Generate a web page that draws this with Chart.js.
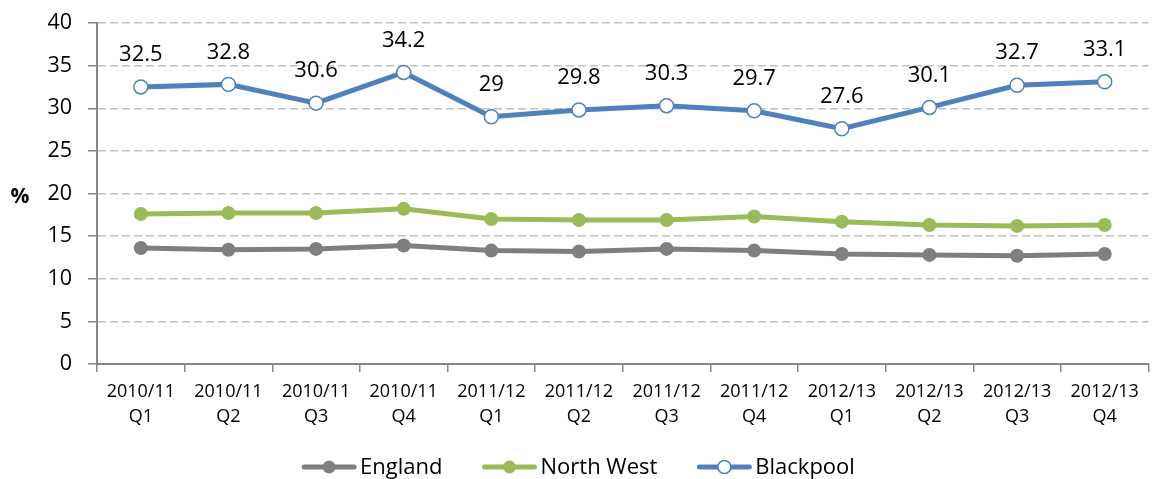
<!DOCTYPE html>
<html>
<head>
<meta charset="utf-8">
<script src="https://cdn.jsdelivr.net/npm/chart.js@4"></script>
<style>
  html, body { margin: 0; padding: 0; background: #fff; }
  #wrap { width: 1157px; height: 479px; }
</style>
</head>
<body>
<div id="wrap"><canvas id="chart"></canvas></div>
<script>
// Chart data
const quarters = [
    ['2010/11', 'Q1'], ['2010/11', 'Q2'], ['2010/11', 'Q3'], ['2010/11', 'Q4'],
    ['2011/12', 'Q1'], ['2011/12', 'Q2'], ['2011/12', 'Q3'], ['2011/12', 'Q4'],
    ['2012/13', 'Q1'], ['2012/13', 'Q2'], ['2012/13', 'Q3'], ['2012/13', 'Q4']
];
const england = [13.6, 13.4, 13.5, 13.9, 13.3, 13.2, 13.5, 13.3, 12.9, 12.8, 12.7, 12.9];
const northWest = [17.6, 17.7, 17.7, 18.2, 17.0, 16.9, 16.9, 17.3, 16.7, 16.3, 16.2, 16.3];
const blackpool = [32.5, 32.8, 30.6, 34.2, 29, 29.8, 30.3, 29.7, 27.6, 30.1, 32.7, 33.1];

const FONT = "'Open Sans', 'Liberation Sans', sans-serif";
const GREY = '#7f7f7f';
const GREEN = '#9bbb59';
const BLUE = '#4f81bd';

// Value labels above Blackpool points, the horizontal "%" title
const valueLabels = {
    id: 'valueLabels',
    afterDatasetsDraw(chart) {
        const meta = chart.getDatasetMeta(2);
        const ctx = chart.ctx;
        ctx.save();
        ctx.font = '22px ' + FONT;
        ctx.fillStyle = '#000';
        ctx.textAlign = 'center';
        ctx.textBaseline = 'middle';
        meta.data.forEach((pt, i) => {
            ctx.fillText(String(blackpool[i]), pt.x, pt.y - 32);
        });
        // y axis title, not rotated
        const y = chart.scales.y;
        ctx.font = 'bold 21px ' + FONT;
        ctx.fillText('%', 20, (y.top + y.bottom) / 2 + 4);
        ctx.restore();
    }
};

// Legend drawn by hand: line + circle marker, text, centred under the chart
const lineLegend = {
    id: 'lineLegend',
    afterDraw(chart) {
        const ctx = chart.ctx;
        const cy = 467;
        const markW = 54, gapText = 4, gapItem = 40;
        ctx.save();
        ctx.font = '22px ' + FONT;
        const items = chart.data.datasets.map(ds => ({
            ds, w: markW + gapText + ctx.measureText(ds.label).width
        }));
        const total = items.reduce((s, it) => s + it.w, 0) + gapItem * (items.length - 1);
        let x = (chart.width - total) / 2;
        items.forEach(({ ds, w }) => {
            ctx.strokeStyle = ds.borderColor;
            ctx.lineWidth = 5;
            ctx.lineCap = 'round';
            ctx.beginPath(); ctx.moveTo(x + 2, cy); ctx.lineTo(x + markW - 2, cy); ctx.stroke();
            ctx.beginPath(); ctx.arc(x + markW / 2, cy, 6.5, 0, Math.PI * 2);
            ctx.fillStyle = ds.pointBackgroundColor; ctx.fill();
            if (ds.pointBorderWidth) { ctx.lineWidth = 1.5; ctx.strokeStyle = ds.pointBorderColor; ctx.stroke(); }
            ctx.fillStyle = '#000';
            ctx.textAlign = 'left';
            ctx.textBaseline = 'middle';
            ctx.fillText(ds.label, x + markW + gapText, cy + 1);
            x += w + gapItem;
        });
        ctx.restore();
    }
};

Chart.defaults.font.family = FONT;
Chart.defaults.color = '#000';

new Chart(document.getElementById('chart'), {
    type: 'line',
    data: {
        labels: quarters,
        datasets: [
            {
                label: 'England',
                data: england,
                borderColor: GREY,
                backgroundColor: GREY,
                borderWidth: 5,
                pointRadius: 7,
                pointBorderWidth: 0,
                pointBackgroundColor: GREY
            },
            {
                label: 'North West',
                data: northWest,
                borderColor: GREEN,
                backgroundColor: GREEN,
                borderWidth: 5,
                pointRadius: 7,
                pointBorderWidth: 0,
                pointBackgroundColor: GREEN
            },
            {
                label: 'Blackpool',
                data: blackpool,
                borderColor: BLUE,
                backgroundColor: BLUE,
                borderWidth: 5,
                pointRadius: 7,
                pointBorderWidth: 1.5,
                pointBorderColor: BLUE,
                pointBackgroundColor: '#ffffff'
            }
        ]
    },
    options: {
        responsive: true,
        maintainAspectRatio: false,
        animation: false,
        layout: { padding: { top: 23, right: 2, left: 0, bottom: 41 } },
        scales: {
            x: {
                offset: true,
                grid: {
                    offset: true,
                    drawOnChartArea: false,
                    color: '#868686',
                    tickColor: '#868686',
                    tickLength: 8,
                    lineWidth: 1.5
                },
                border: { color: '#868686', width: 2 },
                ticks: {
                    maxRotation: 0,
                    autoSkip: false,
                    padding: 7,
                    color: '#000',
                    font: { size: 18, lineHeight: 1.4 }
                },
                afterFit(s) { s.height = 74; }
            },
            y: {
                min: 0,
                max: 40,
                ticks: {
                    stepSize: 5,
                    padding: 16,
                    color: '#000',
                    font: { size: 21.5 }
                },
                grid: {
                    color: '#c0c0c0',
                    lineWidth: 1.5,
                    tickColor: '#868686',
                    tickLength: 9,
                    tickWidth: 1.5
                },
                border: { color: '#868686', width: 2, dash: [8, 4] },
                afterFit(s) {
                    s.width = 97;
                    s.paddingTop = 0;
                    s.paddingBottom = 0;
                }
            }
        },
        plugins: {
            tooltip: { enabled: false },
            legend: { display: false }
        }
    },
    plugins: [valueLabels, lineLegend]
});
</script>
</body>
</html>
